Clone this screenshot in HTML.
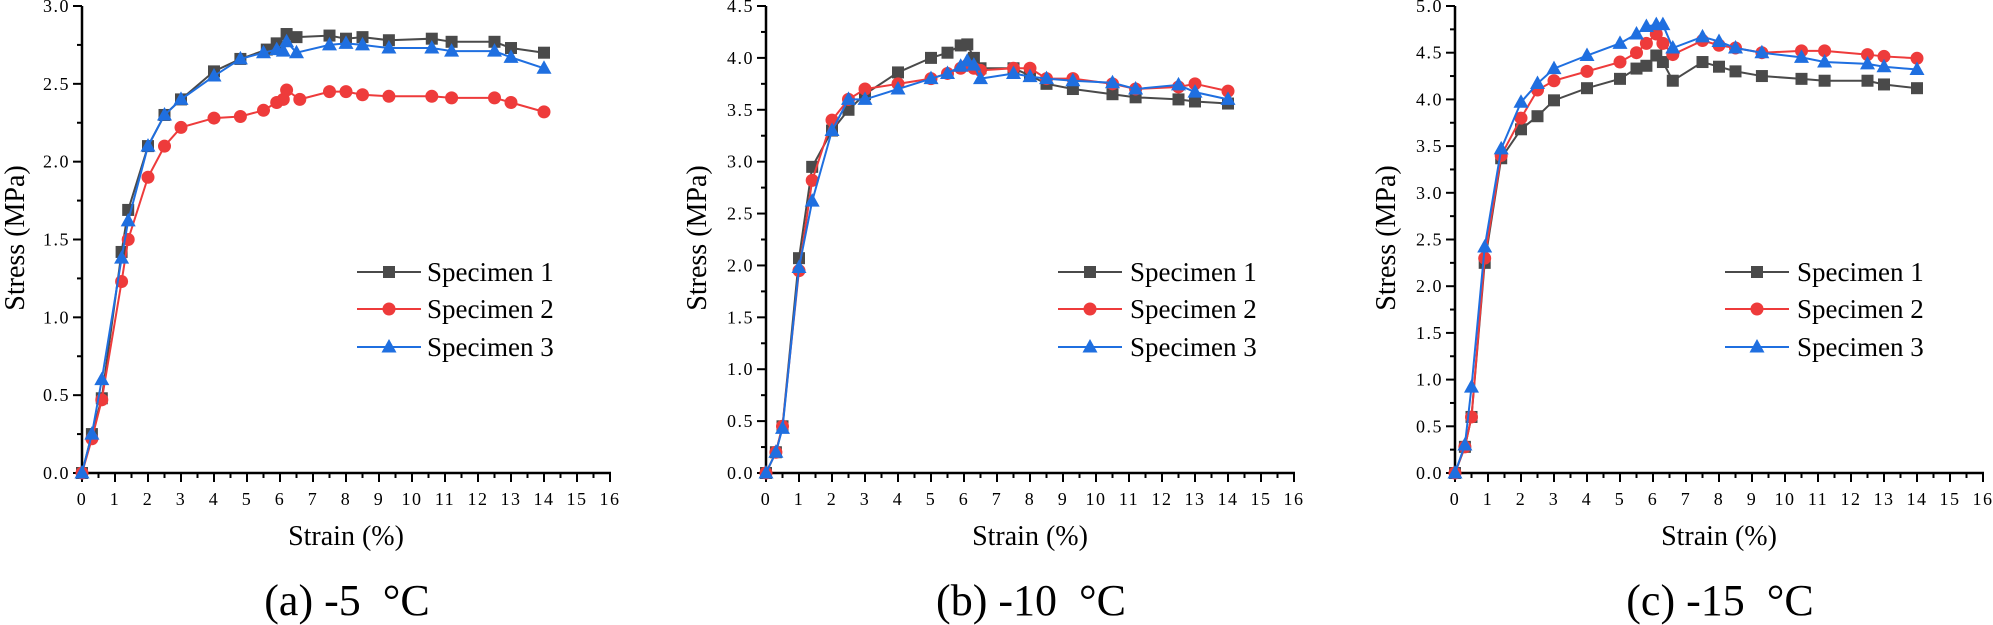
<!DOCTYPE html>
<html><head><meta charset="utf-8"><style>
html,body{margin:0;padding:0;background:#fff;}
svg{display:block;}
svg text{font-family:"Liberation Serif","Times New Roman","DejaVu Serif","Noto Serif CJK SC",serif !important;}
.tl{font-size:18px;letter-spacing:1.5px;}
.ax{font-size:28px;}
.lg{font-size:27px;}
.tt{font-size:44px;}
</style></head><body>
<svg id="s" width="1993" height="625" viewBox="0 0 1993 625" xmlns="http://www.w3.org/2000/svg">
<g id="pa" transform="translate(82,473)">
<g class="tl" text-anchor="end">
<text x="-12" y="6">0.0</text><text x="-12" y="-71.8">0.5</text><text x="-12" y="-149.7">1.0</text><text x="-12" y="-227.5">1.5</text><text x="-12" y="-305.3">2.0</text><text x="-12" y="-383.2">2.5</text><text x="-12" y="-461">3.0</text>
</g>
<g class="tl" text-anchor="middle">
<text x="0" y="32">0</text><text x="33" y="32">1</text><text x="66" y="32">2</text><text x="99" y="32">3</text><text x="132" y="32">4</text><text x="165" y="32">5</text><text x="198" y="32">6</text><text x="231" y="32">7</text><text x="264" y="32">8</text><text x="297" y="32">9</text><text x="330" y="32">10</text><text x="363" y="32">11</text><text x="396" y="32">12</text><text x="429" y="32">13</text><text x="462" y="32">14</text><text x="495" y="32">15</text><text x="528" y="32">16</text>
</g>
<text class="ax" x="264" y="72" text-anchor="middle">Strain (%)</text>
<text class="ax" transform="translate(-58,-235) rotate(-90)" text-anchor="middle">Stress (MPa)</text>
<text class="tt" x="265" y="142" text-anchor="middle">(a) -5&#160;&#160;°C</text>
<g class="lg"><text x="345" y="-192">Specimen 1</text><text x="345" y="-155">Specimen 2</text><text x="345" y="-117">Specimen 3</text></g>
</g>
<g id="pb" transform="translate(766,473)">
<g class="tl" text-anchor="end">
<text x="-12" y="6">0.0</text><text x="-12" y="-45.9">0.5</text><text x="-12" y="-97.8">1.0</text><text x="-12" y="-149.7">1.5</text><text x="-12" y="-201.6">2.0</text><text x="-12" y="-253.4">2.5</text><text x="-12" y="-305.3">3.0</text><text x="-12" y="-357.2">3.5</text><text x="-12" y="-409.1">4.0</text><text x="-12" y="-461">4.5</text>
</g>
<g class="tl" text-anchor="middle">
<text x="0" y="32">0</text><text x="33" y="32">1</text><text x="66" y="32">2</text><text x="99" y="32">3</text><text x="132" y="32">4</text><text x="165" y="32">5</text><text x="198" y="32">6</text><text x="231" y="32">7</text><text x="264" y="32">8</text><text x="297" y="32">9</text><text x="330" y="32">10</text><text x="363" y="32">11</text><text x="396" y="32">12</text><text x="429" y="32">13</text><text x="462" y="32">14</text><text x="495" y="32">15</text><text x="528" y="32">16</text>
</g>
<text class="ax" x="264" y="72" text-anchor="middle">Strain (%)</text>
<text class="ax" transform="translate(-60,-235) rotate(-90)" text-anchor="middle">Stress (MPa)</text>
<text class="tt" x="265" y="142" text-anchor="middle">(b) -10&#160;&#160;°C</text>
<g class="lg"><text x="364" y="-192">Specimen 1</text><text x="364" y="-155">Specimen 2</text><text x="364" y="-117">Specimen 3</text></g>
</g>
<g id="pc" transform="translate(1455,473)">
<g class="tl" text-anchor="end">
<text x="-12" y="6">0.0</text><text x="-12" y="-40.7">0.5</text><text x="-12" y="-87.4">1.0</text><text x="-12" y="-134.1">1.5</text><text x="-12" y="-180.8">2.0</text><text x="-12" y="-227.5">2.5</text><text x="-12" y="-274.2">3.0</text><text x="-12" y="-320.9">3.5</text><text x="-12" y="-367.6">4.0</text><text x="-12" y="-414.3">4.5</text><text x="-12" y="-461">5.0</text>
</g>
<g class="tl" text-anchor="middle">
<text x="0" y="32">0</text><text x="33" y="32">1</text><text x="66" y="32">2</text><text x="99" y="32">3</text><text x="132" y="32">4</text><text x="165" y="32">5</text><text x="198" y="32">6</text><text x="231" y="32">7</text><text x="264" y="32">8</text><text x="297" y="32">9</text><text x="330" y="32">10</text><text x="363" y="32">11</text><text x="396" y="32">12</text><text x="429" y="32">13</text><text x="462" y="32">14</text><text x="495" y="32">15</text><text x="528" y="32">16</text>
</g>
<text class="ax" x="264" y="72" text-anchor="middle">Strain (%)</text>
<text class="ax" transform="translate(-60,-235) rotate(-90)" text-anchor="middle">Stress (MPa)</text>
<text class="tt" x="265" y="142" text-anchor="middle">(c) -15&#160;&#160;°C</text>
<g class="lg"><text x="342" y="-192">Specimen 1</text><text x="342" y="-155">Specimen 2</text><text x="342" y="-117">Specimen 3</text></g>
</g>
</svg>
<script>
var NS="http://www.w3.org/2000/svg";
function el(p,t,a){var e=document.createElementNS(NS,t);for(var k in a)e.setAttribute(k,a[k]);p.appendChild(e);return e;}
var C=["#4a4a4a","#ee3b3b","#1f6fe0"];
function marker(g,k,x,y){
 if(k==0)el(g,"rect",{x:x-6,y:y-6,width:12,height:12,fill:C[0]});
 else if(k==1)el(g,"circle",{cx:x,cy:y,r:6.5,fill:C[1]});
 else el(g,"polygon",{points:(x)+","+(y-8)+" "+(x-7.5)+","+(y+5.5)+" "+(x+7.5)+","+(y+5.5),fill:C[2]});
}
function panel(id,max,minorY,data,leg){
 var g=document.getElementById(id);var H=467,sx=33;
 var ax=el(g,"g",{stroke:"#000","stroke-width":2.5,fill:"none"});
 el(ax,"line",{x1:0,y1:1,x2:0,y2:-H});
 el(ax,"line",{x1:-1,y1:0,x2:529,y2:0});
 for(var i=0;i<=32;i++){var x=i*16.5;el(ax,"line",{x1:x,y1:0,x2:x,y2:i%2?5:9,"stroke-width":2});}
 var n=Math.round(max/minorY);
 for(var i=0;i<=n;i++){var y=-i*H/n;el(ax,"line",{x1:0,y1:y,x2:i%2?-5:-9,y2:y,"stroke-width":2});}
 for(var s=0;s<3;s++){
  var pts=data[s].map(function(p){return [p[0]*sx,-p[1]/max*H];});
  el(g,"polyline",{points:pts.map(function(p){return p.join(",")}).join(" "),fill:"none",stroke:C[s],"stroke-width":2});
  pts.forEach(function(p){marker(g,s,p[0],p[1]);});
  var ly=[-201,-164,-126][s];
  el(g,"line",{x1:leg,y1:ly,x2:leg+64,y2:ly,stroke:C[s],"stroke-width":2});
  marker(g,s,leg+32,ly);
 }
}
panel("pa",3,0.25,[
[[0,0],[0.3,0.25],[0.6,0.48],[1.2,1.42],[1.4,1.69],[2,2.1],[2.5,2.3],[3,2.4],[4,2.58],[4.8,2.66],[5.6,2.72],[5.9,2.76],[6.2,2.82],[6.5,2.8],[7.5,2.81],[8,2.79],[8.5,2.8],[9.3,2.78],[10.6,2.79],[11.2,2.77],[12.5,2.77],[13,2.73],[14,2.7]],
[[0,0],[0.3,0.22],[0.6,0.47],[1.2,1.23],[1.4,1.5],[2,1.9],[2.5,2.1],[3,2.22],[4,2.28],[4.8,2.29],[5.5,2.33],[5.9,2.38],[6.1,2.4],[6.2,2.46],[6.6,2.4],[7.5,2.45],[8,2.45],[8.5,2.43],[9.3,2.42],[10.6,2.42],[11.2,2.41],[12.5,2.41],[13,2.38],[14,2.32]],
[[0,0],[0.3,0.25],[0.6,0.6],[1.2,1.38],[1.4,1.62],[2,2.1],[2.5,2.3],[3,2.4],[4,2.55],[4.8,2.66],[5.5,2.7],[5.9,2.72],[6.1,2.71],[6.2,2.77],[6.5,2.7],[7.5,2.75],[8,2.76],[8.5,2.75],[9.3,2.73],[10.6,2.73],[11.2,2.71],[12.5,2.71],[13,2.67],[14,2.6]]],275);
panel("pb",4.5,0.25,[
[[0,0],[0.3,0.2],[0.5,0.45],[1,2.07],[1.4,2.95],[2,3.3],[2.5,3.5],[3,3.65],[4,3.86],[5,4.0],[5.5,4.05],[5.9,4.12],[6.1,4.13],[6.3,4.0],[6.5,3.9],[7.5,3.9],[8,3.83],[8.5,3.75],[9.3,3.7],[10.5,3.65],[11.2,3.62],[12.5,3.6],[13,3.58],[14,3.56]],
[[0,0],[0.3,0.2],[0.5,0.45],[1,1.95],[1.4,2.82],[2,3.4],[2.5,3.6],[3,3.7],[4,3.75],[5,3.8],[5.5,3.85],[5.9,3.9],[6.1,3.93],[6.3,3.9],[6.5,3.88],[7.5,3.9],[8,3.9],[8.5,3.8],[9.3,3.8],[10.5,3.75],[11.2,3.7],[12.5,3.72],[13,3.75],[14,3.68]],
[[0,0],[0.3,0.2],[0.5,0.43],[1,1.98],[1.4,2.62],[2,3.3],[2.5,3.6],[3,3.6],[4,3.7],[5,3.8],[5.5,3.85],[5.9,3.92],[6.1,3.97],[6.3,3.93],[6.5,3.8],[7.5,3.85],[8,3.82],[8.5,3.8],[9.3,3.78],[10.5,3.76],[11.2,3.7],[12.5,3.74],[13,3.67],[14,3.6]]],292);
panel("pc",5,0.25,[
[[0,0],[0.3,0.28],[0.5,0.6],[0.9,2.25],[1.4,3.37],[2,3.68],[2.5,3.82],[3,3.99],[4,4.12],[5,4.22],[5.5,4.33],[5.8,4.36],[6.1,4.47],[6.3,4.4],[6.6,4.2],[7.5,4.4],[8,4.35],[8.5,4.3],[9.3,4.25],[10.5,4.22],[11.2,4.2],[12.5,4.2],[13,4.16],[14,4.12]],
[[0,0],[0.3,0.28],[0.5,0.6],[0.9,2.3],[1.4,3.4],[2,3.8],[2.5,4.1],[3,4.2],[4,4.3],[5,4.4],[5.5,4.5],[5.8,4.6],[6.1,4.7],[6.3,4.6],[6.6,4.48],[7.5,4.63],[8,4.58],[8.5,4.55],[9.3,4.5],[10.5,4.52],[11.2,4.52],[12.5,4.48],[13,4.46],[14,4.44]],
[[0,0],[0.3,0.3],[0.5,0.92],[0.9,2.42],[1.4,3.47],[2,3.97],[2.5,4.17],[3,4.33],[4,4.47],[5,4.6],[5.5,4.7],[5.8,4.78],[6.1,4.8],[6.3,4.8],[6.6,4.55],[7.5,4.67],[8,4.62],[8.5,4.55],[9.3,4.5],[10.5,4.45],[11.2,4.4],[12.5,4.38],[13,4.35],[14,4.32]]],270);
</script>
</body></html>
